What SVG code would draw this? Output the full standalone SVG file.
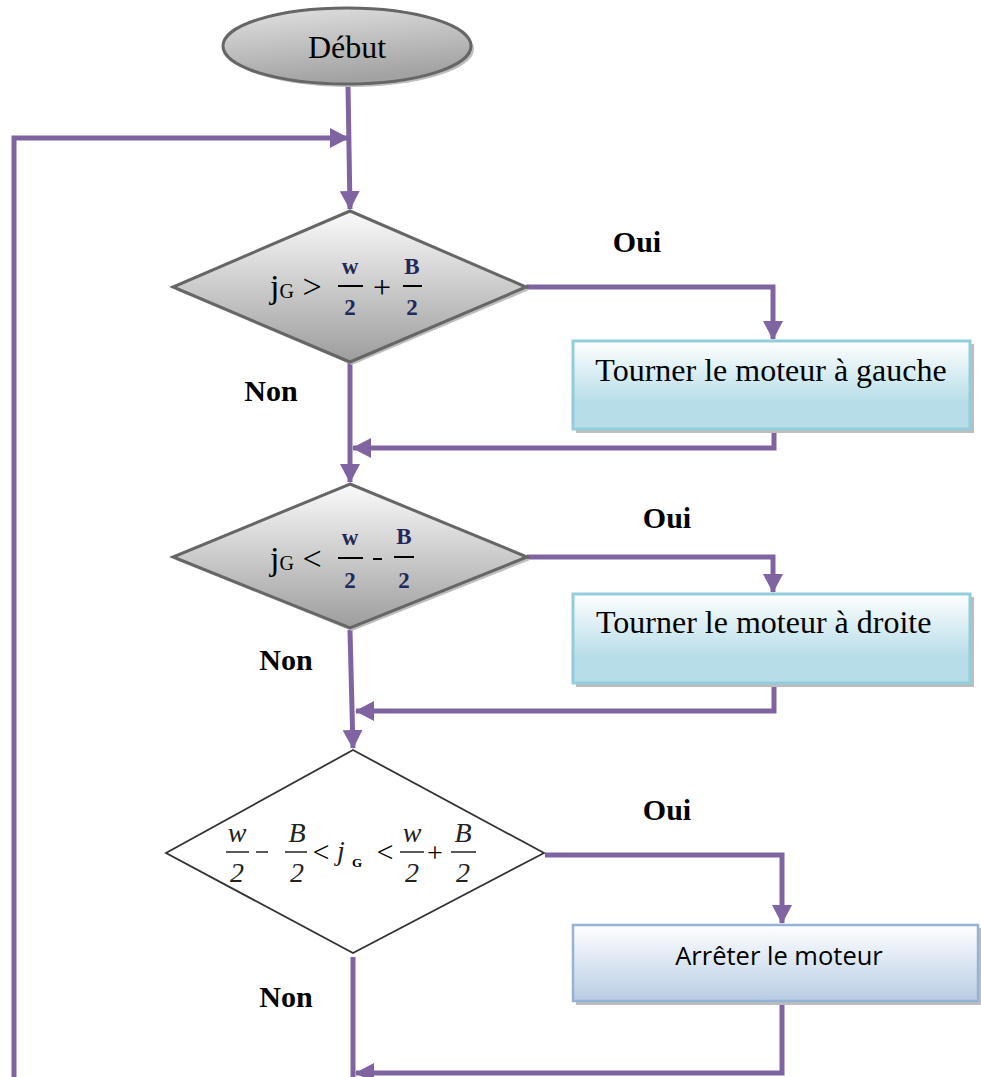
<svg xmlns="http://www.w3.org/2000/svg" width="981" height="1077" viewBox="0 0 981 1077">
<style>
.conn{fill:none;stroke:#8064a2;stroke-width:5}
.lbl{font-family:"Liberation Serif",serif;font-weight:bold;font-size:30px;fill:#000}
.serif{font-family:"Liberation Serif",serif;fill:#000}
.dia{stroke:#666;stroke-width:3}
.shadow{fill:#bdbdbd}
.box1{fill:url(#gBlue);stroke:#92cddc;stroke-width:3}
.box3{fill:url(#gBlue2);stroke:#95b3d7;stroke-width:2.5}
.num{font-family:"Liberation Serif",serif;font-weight:bold;font-size:23px;fill:#1f2a5a}
.it{font-family:"Liberation Serif",serif;font-style:italic;fill:#222}
</style>
<defs>
<linearGradient id="gGray" x1="0" y1="0" x2="0" y2="1">
<stop offset="0" stop-color="#fafafa"/><stop offset="1" stop-color="#9d9d9d"/>
</linearGradient>
<linearGradient id="gEll" x1="0" y1="0" x2="0.3" y2="1">
<stop offset="0" stop-color="#e2e2e2"/><stop offset="1" stop-color="#a2a2a2"/>
</linearGradient>
<linearGradient id="gBlue" x1="0" y1="0" x2="0" y2="1">
<stop offset="0" stop-color="#ffffff"/><stop offset="0.7" stop-color="#b7dde8"/><stop offset="1" stop-color="#b7dde8"/>
</linearGradient>
<linearGradient id="gBlue2" x1="0" y1="0" x2="0" y2="1">
<stop offset="0" stop-color="#ffffff"/><stop offset="1" stop-color="#b8cce4"/>
</linearGradient>
<marker id="arr" markerWidth="4" markerHeight="4" refX="3.6" refY="2" orient="auto" markerUnits="strokeWidth">
<path d="M0,0 L3.8,2 L0,4 Z" fill="#8064a2"/>
</marker>
</defs>

<g id="connectors">
<path class="conn" d="M348,85 L350,209" marker-end="url(#arr)"/>
<path class="conn" d="M14,1077 L14,138 L348,138" marker-end="url(#arr)"/>
<path class="conn" d="M526,287 L773,287 L773,339" marker-end="url(#arr)"/>
<path class="conn" d="M774,430 L774,448 L353,448" marker-end="url(#arr)"/>
<path class="conn" d="M350,362 L350,482" marker-end="url(#arr)"/>
<path class="conn" d="M527,557 L773,557 L773,592" marker-end="url(#arr)"/>
<path class="conn" d="M774,685 L774,711 L356,711" marker-end="url(#arr)"/>
<path class="conn" d="M350,630 L353,748" marker-end="url(#arr)"/>
<path class="conn" d="M545,855 L782,855 L782,923" marker-end="url(#arr)"/>
<path class="conn" d="M782,1001 L782,1073 L356,1073" marker-end="url(#arr)"/>
<path class="conn" d="M353,957 L353,1077"/>
</g>

<g id="debut">
<ellipse cx="350" cy="49" rx="124" ry="38" class="shadow"/>
<ellipse cx="347" cy="46" rx="124" ry="38" fill="url(#gEll)" stroke="#666" stroke-width="3"/>
<text x="347" y="58" text-anchor="middle" class="serif" font-size="32">Début</text>
</g>

<g id="decision1">
<polygon points="352,214 529,290 352,365 176,290" class="shadow"/>
<polygon points="350,211 526,287 350,362 173,287" fill="url(#gGray)" class="dia"/>
<text x="270" y="298" class="serif" font-size="34">j<tspan font-size="20">G</tspan> &gt;</text>
<text x="350" y="274" text-anchor="middle" class="num">w</text>
<line x1="338" y1="286" x2="363" y2="286" stroke="#000" stroke-width="2"/>
<text x="350" y="315" text-anchor="middle" class="num">2</text>
<text x="382" y="298" text-anchor="middle" class="serif" font-size="32">+</text>
<text x="412" y="274" text-anchor="middle" class="num">B</text>
<line x1="403" y1="286" x2="422" y2="286" stroke="#000" stroke-width="2"/>
<text x="412" y="315" text-anchor="middle" class="num">2</text>
</g>

<g id="action1">
<rect x="576" y="344" width="398" height="89" class="shadow"/>
<rect x="573" y="341" width="397" height="88" class="box1"/>
<text x="771" y="381" text-anchor="middle" class="serif" font-size="32">Tourner le moteur à gauche</text>
</g>

<g id="decision2">
<polygon points="352,487 530,560 352,631 176,560" class="shadow"/>
<polygon points="350,484 527,557 350,628 173,557" fill="url(#gGray)" class="dia"/>
<text x="270" y="570" class="serif" font-size="34">j<tspan font-size="20">G</tspan> &lt;</text>
<text x="350" y="545" text-anchor="middle" class="num">w</text>
<line x1="338" y1="558" x2="363" y2="558" stroke="#000" stroke-width="2"/>
<text x="350" y="588" text-anchor="middle" class="num">2</text>
<line x1="373" y1="559" x2="382" y2="559" stroke="#000" stroke-width="2"/>
<text x="404" y="544" text-anchor="middle" class="num">B</text>
<line x1="394" y1="557" x2="414" y2="557" stroke="#000" stroke-width="2"/>
<text x="404" y="588" text-anchor="middle" class="num">2</text>
</g>

<g id="action2">
<rect x="576" y="597" width="398" height="90" class="shadow"/>
<rect x="573" y="594" width="397" height="89" class="box1"/>
<text x="596" y="633" class="serif" font-size="32">Tourner le moteur à droite</text>
</g>

<g id="decision3">
<polygon points="353,750 544,853 353,953 166,853" fill="#fff" stroke="#333" stroke-width="1.8"/>
<text x="237" y="842" text-anchor="middle" class="it" font-size="28">w</text>
<line x1="226" y1="852" x2="249" y2="852" stroke="#222" stroke-width="1.5"/>
<text x="237" y="882" text-anchor="middle" class="it" font-size="28">2</text>
<line x1="256" y1="852" x2="268" y2="852" stroke="#222" stroke-width="1.5"/>
<text x="297" y="842" text-anchor="middle" class="it" font-size="28">B</text>
<line x1="285" y1="852" x2="307" y2="852" stroke="#222" stroke-width="1.5"/>
<text x="297" y="882" text-anchor="middle" class="it" font-size="28">2</text>
<text x="321" y="862" text-anchor="middle" class="serif" font-size="30" fill="#222">&lt;</text>
<text x="341" y="860" text-anchor="middle" class="it" font-size="28">j</text>
<text x="352" y="867" class="serif" font-size="13" font-weight="bold" fill="#222">G</text>
<text x="385" y="862" text-anchor="middle" class="serif" font-size="30" fill="#222">&lt;</text>
<text x="412" y="842" text-anchor="middle" class="it" font-size="28">w</text>
<line x1="400" y1="852" x2="424" y2="852" stroke="#222" stroke-width="1.5"/>
<text x="412" y="882" text-anchor="middle" class="it" font-size="28">2</text>
<text x="435" y="862" text-anchor="middle" class="serif" font-size="28" fill="#222">+</text>
<text x="463" y="842" text-anchor="middle" class="it" font-size="28">B</text>
<line x1="451" y1="852" x2="476" y2="852" stroke="#222" stroke-width="1.5"/>
<text x="463" y="882" text-anchor="middle" class="it" font-size="28">2</text>
</g>

<g id="action3">
<rect x="576" y="928" width="405" height="77" class="shadow"/>
<rect x="573" y="925" width="405" height="76" class="box3"/>
<text x="779" y="965" text-anchor="middle" font-family="'Open Sans','Liberation Sans',sans-serif" font-size="25.5" fill="#000">Arrêter le moteur</text>
</g>

<g id="labels">
<text x="637" y="252" text-anchor="middle" class="lbl">Oui</text>
<text x="271" y="401" text-anchor="middle" class="lbl">Non</text>
<text x="667" y="528" text-anchor="middle" class="lbl">Oui</text>
<text x="286" y="670" text-anchor="middle" class="lbl">Non</text>
<text x="667" y="820" text-anchor="middle" class="lbl">Oui</text>
<text x="286" y="1007" text-anchor="middle" class="lbl">Non</text>
</g>
</svg>
